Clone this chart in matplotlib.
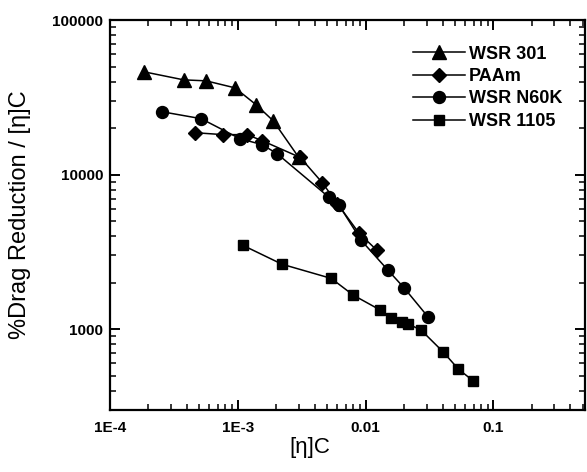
import numpy as np
import matplotlib
matplotlib.use("Agg")
import matplotlib.pyplot as plt

plt.rcParams['font.family'] = ['Liberation Sans', 'DejaVu Sans']

# [eta]C and %DR/[eta]C for each polymer
wsr301_x = [1.85e-4, 3.77e-4, 5.65e-4, 9.5e-4, 1.39e-3, 1.89e-3, 3.0e-3]
wsr301_y = [46200, 41000, 40400, 36400, 28300, 22300, 12900]

paam_x = [4.63e-4, 7.67e-4, 1.18e-3, 1.55e-3, 3.08e-3, 4.57e-3, 6.0e-3, 8.91e-3, 1.23e-2]
paam_y = [18660, 18130, 18130, 16570, 12900, 8880, 6500, 4160, 3230]

n60k_x = [2.55e-4, 5.16e-4, 1.04e-3, 1.55e-3, 2.03e-3, 5.19e-3, 6.21e-3, 9.24e-3, 1.50e-2, 2.01e-2, 3.09e-2]
n60k_y = [25500, 23000, 17070, 15620, 13650, 7110, 6310, 3750, 2400, 1840, 1195]

wsr1105_x = [1.10e-3, 2.22e-3, 5.38e-3, 8.0e-3, 1.30e-2, 1.59e-2, 1.94e-2, 2.16e-2, 2.72e-2, 4.05e-2, 5.31e-2, 6.96e-2]
wsr1105_y = [3480, 2630, 2130, 1660, 1330, 1180, 1110, 1080, 985, 711, 552, 462]

xticks = [1e-4, 1e-3, 1e-2, 1e-1]
xticklabels = ['1E-4', '1E-3', '0.01', '0.1']
yticks = [1000, 10000, 100000]
yticklabels = ['1000', '10000', '100000']

fig = plt.figure(figsize=(5.87, 4.72), dpi=100)
ax = fig.add_axes([110/587, 1 - 410/472, 475/587, 390/472])

lw = 1.1
ax.plot(wsr301_x, wsr301_y, '-^', color='black', lw=lw, ms=9.5, label='WSR 301', zorder=2)
ax.plot(paam_x, paam_y, '-D', color='black', lw=lw, ms=7.2, label='PAAm', zorder=4)
ax.plot(n60k_x, n60k_y, '-o', color='black', lw=lw, ms=8.6, label='WSR N60K', zorder=3)
ax.plot(wsr1105_x, wsr1105_y, '-s', color='black', lw=lw, ms=7.8, label='WSR 1105', zorder=3)

ax.set_xscale('log')
ax.set_yscale('log')
ax.set_xlim(1e-4, 0.52)
ax.set_ylim(300, 100000)

ax.set_xticks(xticks)
ax.set_xticklabels(xticklabels)
ax.set_yticks(yticks)
ax.set_yticklabels(yticklabels)

for lab in ax.get_xticklabels() + ax.get_yticklabels():
    lab.set_fontweight('bold')
    lab.set_fontsize(11)

ax.tick_params(which='both', direction='in', top=True, right=True, color='black')
ax.tick_params(which='major', length=7, width=1.4)
ax.tick_params(which='minor', length=4, width=1.1)
ax.tick_params(axis='x', pad=8)
ax.tick_params(axis='y', pad=5)
for sp in ax.spines.values():
    sp.set_linewidth(1.6)

ax.set_xlabel('[η]C', fontsize=16)
ax.set_ylabel('%Drag Reduction / [η]C', fontsize=17)
ax.xaxis.set_label_coords(200/475, -0.07)
ax.yaxis.set_label_coords(-0.166, 0.5)

leg = ax.legend(loc='upper left', bbox_to_anchor=(290/475, 1 - 13/390), frameon=False,
                handlelength=2.9, handletextpad=0.2, labelspacing=0.3, borderpad=0.2,
                prop={'weight': 'bold', 'size': 13})

fig.savefig('out.png', dpi=100)
